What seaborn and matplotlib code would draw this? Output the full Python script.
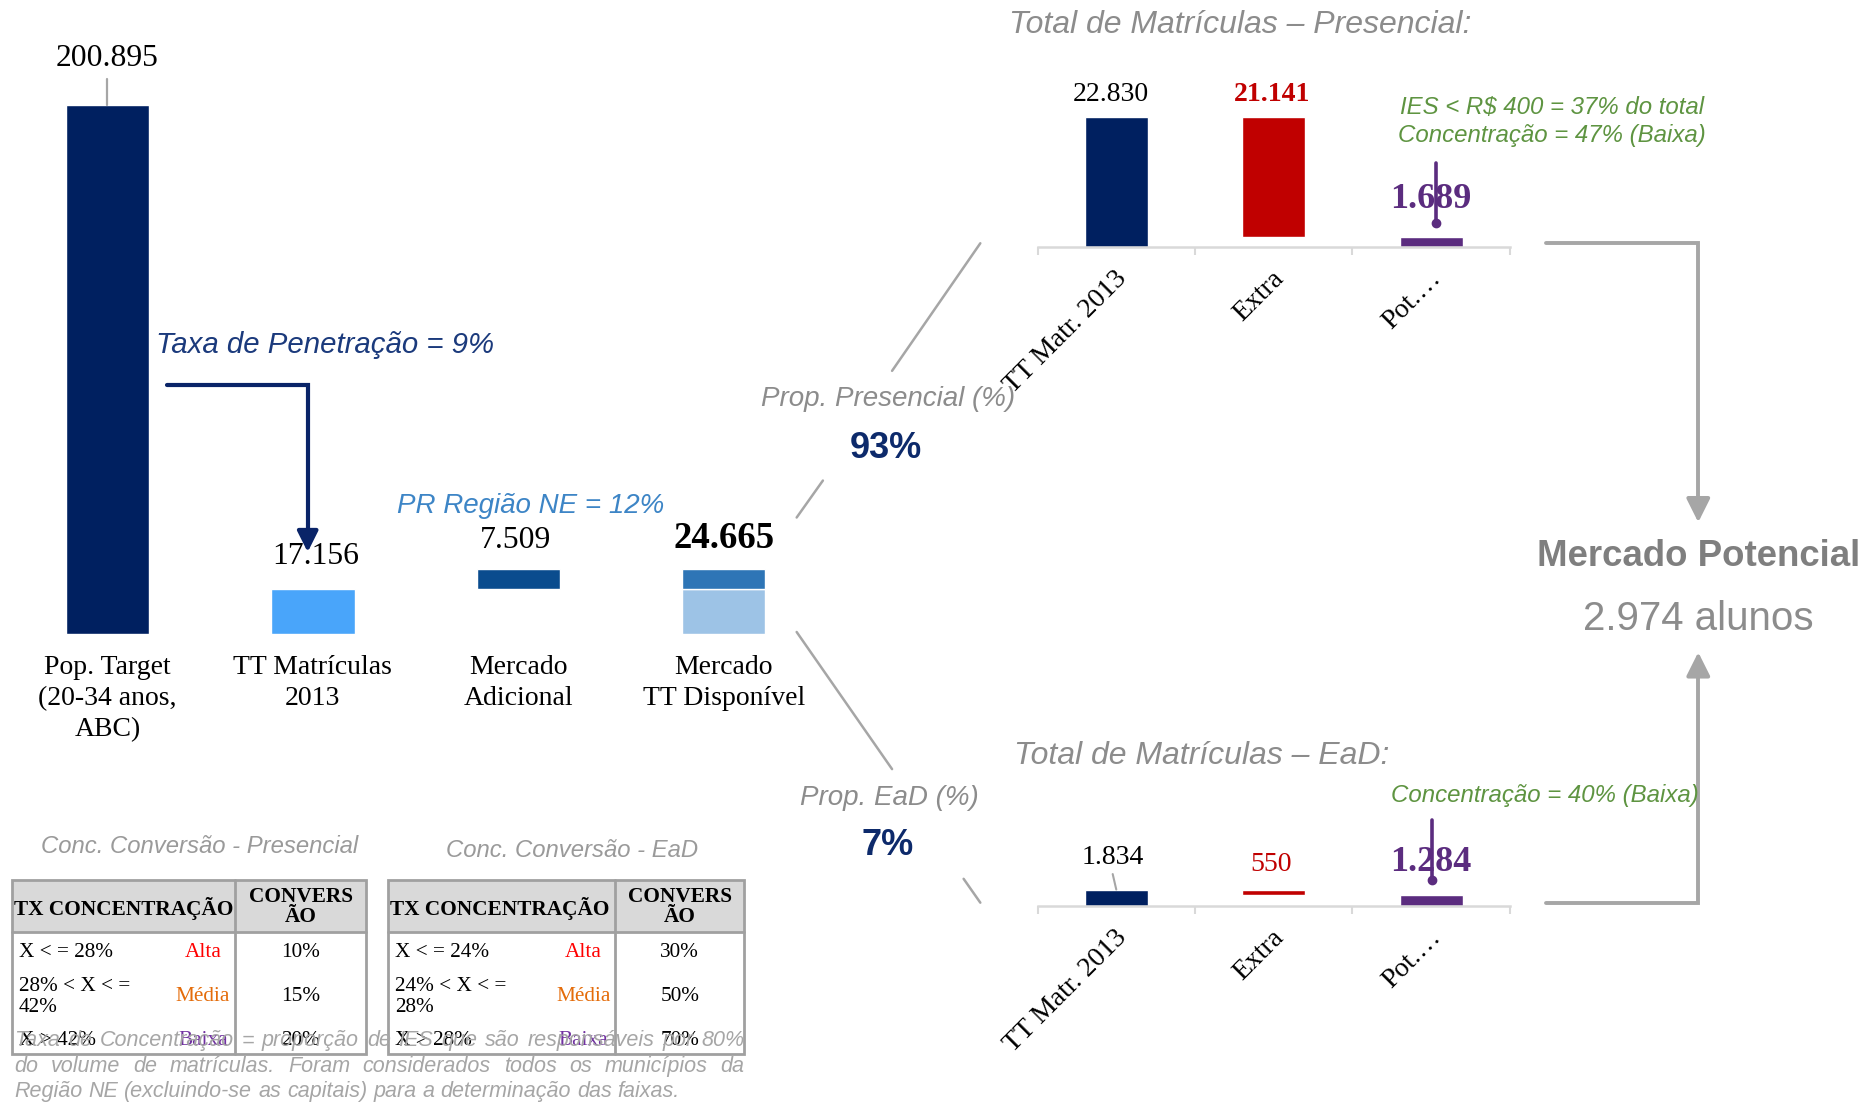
import matplotlib
matplotlib.use("Agg")
import matplotlib.pyplot as plt
from matplotlib.patches import Rectangle
import seaborn as sns

# ---------------- data ----------------
main_labels = ["Pop. Target\n(20-34 anos,\nABC)", "TT Matrículas\n2013", "Mercado\nAdicional", "Mercado\nTT Disponível"]
pop_target = 200895
tt_matriculas = 17156
mercado_adicional = 7509
mercado_disponivel = 24665

sub_labels = ["TT Matr. 2013", "Extra", "Pot.…"]
presencial_vals = [22830, 21141, 1689]
ead_vals = [1834, 550, 1284]

taxa_penetracao = 9
pr_regiao = 12
prop_presencial = 93
prop_ead = 7
mercado_potencial = 2974

pres_notes = ["IES < R$ 400 = 37% do total", "Concentração = 47% (Baixa)"]
ead_notes = ["Concentração = 40% (Baixa)"]

table_pres_rows = [("X < = 28%", "Alta", "10%"), ("28% < X < =\n42%", "Média", "15%"), ("X > 42%", "Baixa", "20%")]
table_ead_rows = [("X < = 24%", "Alta", "30%"), ("24% < X < =\n28%", "Média", "50%"), ("X > 28%", "Baixa", "70%")]
table_header = ["TX CONCENTRAÇÃO", "CONVERS\nÃO"]
footnote_lines = ["Taxa de Concentração = proporção de IES que são responsáveis por 80%",
                  "do volume de matrículas. Foram considerados todos os municípios da",
                  "Região NE (excluindo-se as capitais) para a determinação das faixas."]

# ---------------- style ----------------
NAVY = "#002060"; LIGHT = "#49A5FA"; DARKBLUE = "#0A4C8E"; PALE = "#9DC3E6"; MID = "#2E75B6"
RED = "#C00000"; PURPLE = "#5B2C7F"; GREEN = "#5E9441"; GRAYT = "#8C8C8C"; LINEG = "#A6A6A6"
LEVEL_COLORS = {"Alta": "#FF0000", "Média": "#E46C0A", "Baixa": "#7030A0"}
SERIF = ["Liberation Serif", "DejaVu Serif"]
SANS = ["Liberation Sans", "DejaVu Sans"]

sns.set_theme(style="white")
plt.rcParams["font.family"] = SANS

W, H = 1568, 925
fig = plt.figure(figsize=(18.7, 11.03), dpi=100)
PT = (1870 / W) * 72 / 100   # points per reference px


def rect(x0, yt, x1, yb):
    return [x0 / W, 1 - yb / H, (x1 - x0) / W, (yb - yt) / H]


def fmt(v):
    return f"{v:,}".replace(",", ".")


# ---------------- main waterfall ----------------
ax = fig.add_axes(rect(4, 88, 693, 532))
segments = [(0, 0, pop_target, NAVY),
            (1, 0, tt_matriculas, LIGHT),
            (2, tt_matriculas, mercado_adicional, DARKBLUE),
            (3, 0, tt_matriculas, PALE),
            (3, tt_matriculas, mercado_disponivel - tt_matriculas, MID)]
for i, b, h, c in segments:
    sns.barplot(x=[main_labels[i]], y=[h], order=main_labels, color=c, bottom=b,
                width=0.406, saturation=1, errorbar=None, ax=ax)
ax.set_xlim(-0.5, 3.5)
ax.set_ylim(0, pop_target)
for s in ax.spines.values():
    s.set_visible(False)
ax.set_yticks([])
ax.set_xlabel(""); ax.set_ylabel("")
ax.set_xticks(range(4))
ax.set_xticklabels(main_labels, fontfamily=SERIF, fontsize=20, linespacing=1.3, color="black")
ax.tick_params(axis="x", length=0, pad=15)

main_tops = [pop_target, tt_matriculas, tt_matriculas + mercado_adicional, mercado_disponivel]
main_off = [39, 27, 24, 26]
main_dx = [0, 2, -2, 0]
for i, v in enumerate([pop_target, tt_matriculas, mercado_adicional, mercado_disponivel]):
    bold = i == 3
    ax.annotate(fmt(v), xy=(i, main_tops[i]), xytext=(main_dx[i] * PT, main_off[i] * PT),
                textcoords="offset points", ha="center", va="center",
                fontfamily=SERIF, fontsize=26.5 if bold else 22.8,
                fontweight="bold" if bold else "normal", color="black", annotation_clip=False)


# ---------------- sub charts ----------------
def sub_chart(yt, yb, vals, value_styles, label_offsets):
    a = fig.add_axes(rect(870, yt, 1266, yb))
    bottoms = [0, vals[2], 0]
    cols = [NAVY, RED, PURPLE]
    for i in range(3):
        sns.barplot(x=[sub_labels[i]], y=[vals[i]], order=sub_labels, color=cols[i], bottom=bottoms[i],
                    width=0.40, saturation=1, errorbar=None, ax=a)
    a.set_xlim(-0.5, 2.5)
    a.set_ylim(0, vals[0])
    for s in ["left", "top", "right"]:
        a.spines[s].set_visible(False)
    a.spines["bottom"].set_color("#D9D9D9")
    a.spines["bottom"].set_linewidth(1.8)
    a.set_yticks([])
    a.set_xlabel(""); a.set_ylabel("")
    a.set_xticks([i + 0.04 for i in range(3)])
    a.set_xticklabels(sub_labels, fontfamily=SERIF, fontsize=20, color="black")
    a.set_xticks([-0.5, 0.5, 1.5, 2.5], minor=True)
    a.tick_params(axis="x", which="major", length=0, pad=20)
    a.tick_params(axis="x", which="minor", length=6, width=1.5, color="#D9D9D9", direction="out", bottom=True)
    for lbl in a.get_xticklabels():
        lbl.set_rotation(45); lbl.set_ha("right"); lbl.set_va("center"); lbl.set_rotation_mode("anchor")
    tops = [vals[0], vals[0], vals[2]]
    for i in range(3):
        color, weight, size = value_styles[i]
        dx, dy = label_offsets[i]
        a.annotate(fmt(vals[i]), xy=(i, tops[i]), xytext=(dx * PT, dy * PT), textcoords="offset points",
                   ha="center", va="center", fontfamily=SERIF, fontsize=size, fontweight=weight,
                   color=color, annotation_clip=False)
    return a


sub_chart(98, 207, presencial_vals,
          [("black", "normal", 20), (RED, "bold", 20), (PURPLE, "bold", 26)],
          [(-5, 19), (-1, 19), (0, 32)])
sub_chart(746, 760, ead_vals,
          [("black", "normal", 20), (RED, "normal", 20), (PURPLE, "bold", 26)],
          [(-3, 27), (-2, 21), (0, 27)])

# ---------------- overlay annotations ----------------
ov = fig.add_axes([0, 0, 1, 1])
ov.set_xlim(0, W); ov.set_ylim(H, 0); ov.axis("off"); ov.patch.set_alpha(0)

# leader of first bar
ov.plot([90, 90], [66, 88], color=LINEG, lw=1.6)

# penetration arrow
ov.plot([140, 258, 258], [323, 323, 452], color="#0A2468", lw=3, solid_joinstyle="miter")
ov.annotate("", xy=(258, 463), xytext=(258, 448),
            arrowprops=dict(arrowstyle="-|>,head_length=0.7,head_width=0.35", color="#0A2468", lw=3,
                            mutation_scale=18, shrinkA=0, shrinkB=0))
ov.text(131, 289, f"Taxa de Penetração = {taxa_penetracao}%", style="italic", fontsize=21.2,
        color="#1B3A7C", ha="left", va="center")
ov.text(333, 424, f"PR Região NE = {pr_regiao}%", style="italic", fontsize=20,
        color="#3D85C6", ha="left", va="center")

# connectors
for (x0, y0, x1, y1) in [(668, 434, 690, 403), (748, 311, 822, 204), (668, 530, 748, 645), (808, 737, 822, 757)]:
    ov.plot([x0, x1], [y0, y1], color=LINEG, lw=1.8)
ov.text(745, 335, "Prop. Presencial (%)", style="italic", fontsize=20, color=GRAYT, ha="center", va="center")
ov.text(743, 376, f"{prop_presencial}%", fontweight="bold", fontsize=26, color="#0D2A6B", ha="center", va="center")
ov.text(746, 669, "Prop. EaD (%)", style="italic", fontsize=20, color=GRAYT, ha="center", va="center")
ov.text(744, 709, f"{prop_ead}%", fontweight="bold", fontsize=26, color="#0D2A6B", ha="center", va="center")

# sub chart titles and notes
ov.text(846, 21, "Total de Matrículas – Presencial:", style="italic", fontsize=23, color=GRAYT, ha="left", va="center")
ov.text(850, 634, "Total de Matrículas – EaD:", style="italic", fontsize=23, color=GRAYT, ha="left", va="center")
ov.text(1301, 90, pres_notes[0], style="italic", fontsize=17.3, color=GREEN, ha="center", va="center")
ov.text(1301, 114, pres_notes[1], style="italic", fontsize=17.3, color=GREEN, ha="center", va="center")
ov.text(1295, 667, ead_notes[0], style="italic", fontsize=17.3, color=GREEN, ha="center", va="center")

# purple leader lines
ov.plot([1204, 1204], [137, 187], color=PURPLE, lw=2.6)
ov.plot([1204], [187], "o", color=PURPLE, ms=6)
ov.plot([1201, 1201], [688, 738], color=PURPLE, lw=2.6)
ov.plot([1201], [738], "o", color=PURPLE, ms=6)
ov.plot([933, 936], [733, 746], color=LINEG, lw=1.5)

# arrows to Mercado Potencial
ov.plot([1296, 1424, 1424], [204, 204, 425], color=LINEG, lw=2.8, solid_joinstyle="miter")
ov.annotate("", xy=(1424, 438), xytext=(1424, 422),
            arrowprops=dict(arrowstyle="-|>,head_length=0.8,head_width=0.4", color=LINEG, lw=2.8,
                            mutation_scale=18, shrinkA=0, shrinkB=0))
ov.plot([1296, 1424, 1424], [757, 757, 561], color=LINEG, lw=2.8, solid_joinstyle="miter")
ov.annotate("", xy=(1424, 547), xytext=(1424, 564),
            arrowprops=dict(arrowstyle="-|>,head_length=0.8,head_width=0.4", color=LINEG, lw=2.8,
                            mutation_scale=18, shrinkA=0, shrinkB=0))
ov.text(1424, 467, "Mercado Potencial", fontweight="bold", fontsize=26.4, color="#7F7F7F", ha="center", va="center")
ov.text(1424, 519, f"{fmt(mercado_potencial)} alunos", fontsize=29, color=GRAYT, ha="center", va="center")


# ---------------- tables ----------------
def draw_table(x0, x1, xdiv, title, tx, ty, rows):
    y0, yh, y1 = 738, 782, 884
    ov.text(tx, ty, title, style="italic", fontsize=17.2, color="#9A9A9A", ha="center", va="center")
    ov.add_patch(Rectangle((x0, y0), x1 - x0, yh - y0, facecolor="#D9D9D9", edgecolor="none"))
    ov.add_patch(Rectangle((x0, y0), x1 - x0, y1 - y0, facecolor="none", edgecolor="#A0A0A0", lw=2))
    ov.plot([xdiv, xdiv], [y0, y1], color="#A0A0A0", lw=2)
    ov.plot([x0, x1], [yh, yh], color="#A0A0A0", lw=2)
    ov.text(x0 + 2, 762, table_header[0], fontfamily=SERIF, fontweight="bold", fontsize=15.3,
            ha="left", va="center", color="black")
    ov.text((xdiv + x1) / 2, 761, table_header[1], fontfamily=SERIF, fontweight="bold", fontsize=15.3,
            ha="center", va="center", color="black", linespacing=1.0)
    for (cond, level, conv), y in zip(rows, [799, 836, 873]):
        ov.text(x0 + 6, y, cond, fontfamily=SERIF, fontsize=15.3, ha="left", va="center", color="black", linespacing=1.1)
        ov.text(xdiv - 27, y, level, fontfamily=SERIF, fontsize=15.3, ha="center", va="center", color=LEVEL_COLORS[level])
        ov.text((xdiv + x1) / 2, y, conv, fontfamily=SERIF, fontsize=15.3, ha="center", va="center", color="black")


draw_table(10, 307, 197, "Conc. Conversão - Presencial", 167, 710, table_pres_rows)
draw_table(325, 624, 516, "Conc. Conversão - EaD", 480, 713, table_ead_rows)

# footnote (justified)
renderer = fig.canvas.get_renderer()


def justify_line(text, x0, x1, y, justify=True, **kw):
    words = text.split(" ")
    ts = [ov.text(0, y, w, ha="left", va="center", **kw) for w in words]
    ws = [t.get_window_extent(renderer=renderer).width / (1870 / W) for t in ts]
    t1 = ov.text(0, y, "a a", **kw)
    t2 = ov.text(0, y, "aa", **kw)
    sp = (t1.get_window_extent(renderer=renderer).width - t2.get_window_extent(renderer=renderer).width) / (1870 / W)
    t1.remove(); t2.remove()
    gap = (x1 - x0 - sum(ws)) / (len(words) - 1) if justify else sp
    x = x0
    for t, w in zip(ts, ws):
        t.set_x(x)
        x += w + gap


fkw = dict(style="italic", fontsize=15.5, color="#A6A6A6")
justify_line(footnote_lines[0], 12, 624, 873, True, **fkw)
justify_line(footnote_lines[1], 12, 624, 894, True, **fkw)
justify_line(footnote_lines[2], 12, 624, 915, False, **fkw)

fig.savefig("out.png", dpi=100)
